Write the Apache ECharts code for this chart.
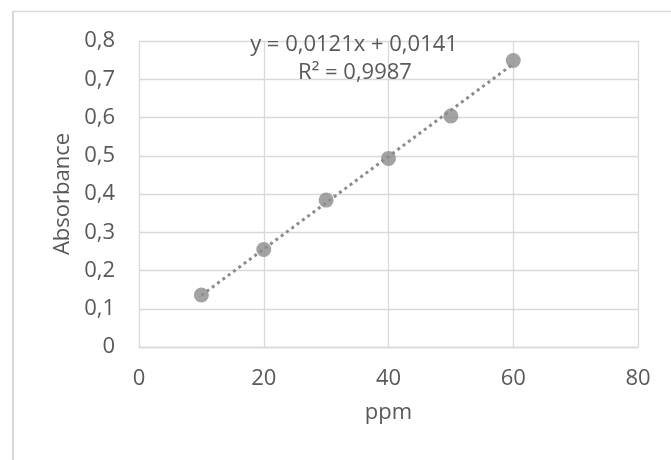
<!DOCTYPE html>
<html>
<head>
<meta charset="utf-8">
<script src="https://cdn.jsdelivr.net/npm/echarts@6/dist/echarts.min.js"></script>
<style>
html,body{margin:0;padding:0;background:#fff;}
#chart{width:671px;height:460px;}
</style>
</head>
<body>
<div id="chart"></div>
<script>
// Data
const ppm = [10, 20, 30, 40, 50, 60];
const absorbance = [0.136, 0.255, 0.384, 0.493, 0.604, 0.749];
const trendSlope = 0.0121;
const trendIntercept = 0.0141;
const rSquared = '0,9987';
const xTicks = [0, 20, 40, 60, 80];
const yTicks = [0, 0.1, 0.2, 0.3, 0.4, 0.5, 0.6, 0.7, 0.8];

const points = ppm.map((x, i) => [x, absorbance[i]]);
const xFirst = ppm[0], xLast = ppm[ppm.length - 1];
const trend = [[xFirst, trendSlope * xFirst + trendIntercept], [xLast, trendSlope * xLast + trendIntercept]];
const fmt = v => String(v).replace('.', ',');

const FONT = '"Open Sans", sans-serif';
const FS = 22;
const TXT = '#595959';
const GRID = '#d9d9d9';

const chart = echarts.init(document.getElementById('chart'), null, {renderer: 'canvas'});
chart.setOption({
  animation: false,
  backgroundColor: '#fff',
  grid: {left: 139, right: 33, top: 41, bottom: 113},
  xAxis: {
    type: 'value', min: xTicks[0], max: xTicks[xTicks.length - 1], interval: 20,
    name: 'ppm', nameLocation: 'middle', nameGap: 55,
    nameTextStyle: {color: TXT, fontFamily: FONT, fontSize: FS},
    axisLine: {show: true, lineStyle: {color: GRID, width: 1.3}},
    axisTick: {show: false},
    axisLabel: {color: TXT, fontFamily: FONT, fontSize: FS, margin: 21, formatter: v => fmt(v)},
    splitLine: {show: true, lineStyle: {color: GRID, width: 1.3}}
  },
  yAxis: {
    type: 'value', min: yTicks[0], max: yTicks[yTicks.length - 1], interval: 0.1,
    name: 'Absorbance', nameLocation: 'middle', nameGap: 59,
    nameTextStyle: {color: TXT, fontFamily: FONT, fontSize: FS},
    axisLine: {show: false},
    axisTick: {show: false},
    axisLabel: {color: TXT, fontFamily: FONT, fontSize: FS, margin: 24, formatter: v => fmt(+v.toFixed(1))},
    splitLine: {show: true, lineStyle: {color: GRID, width: 1.3}}
  },
  graphic: [
    {type: 'line', silent: true, shape: {x1: 13, y1: 11.5, x2: 671, y2: 11.5}, style: {stroke: GRID, lineWidth: 1.3}},
    {type: 'line', silent: true, shape: {x1: 13, y1: 11, x2: 13, y2: 460}, style: {stroke: GRID, lineWidth: 2.2}},
    {type: 'text', silent: true, z: 10,
      style: {text: 'y = ' + fmt(trendSlope) + 'x + ' + fmt(trendIntercept), fill: TXT, font: FS + 'px ' + FONT, textAlign: 'center', textVerticalAlign: 'middle', x: 354, y: 45}},
    {type: 'text', silent: true, z: 10,
      style: {text: 'R² = ' + rSquared, fill: TXT, font: FS + 'px ' + FONT, textAlign: 'center', textVerticalAlign: 'middle', x: 355, y: 73}}
  ],
  series: [
    {
      type: 'line', data: trend, showSymbol: false, symbol: 'none', silent: true,
      lineStyle: {color: '#8c8c8c', width: 3, type: [3, 3.6]}, z: 2
    },
    {
      type: 'scatter', data: points, symbol: 'circle', symbolSize: 15,
      itemStyle: {color: '#8c8c8c'}, z: 3
    }
  ]
});
</script>
</body>
</html>
